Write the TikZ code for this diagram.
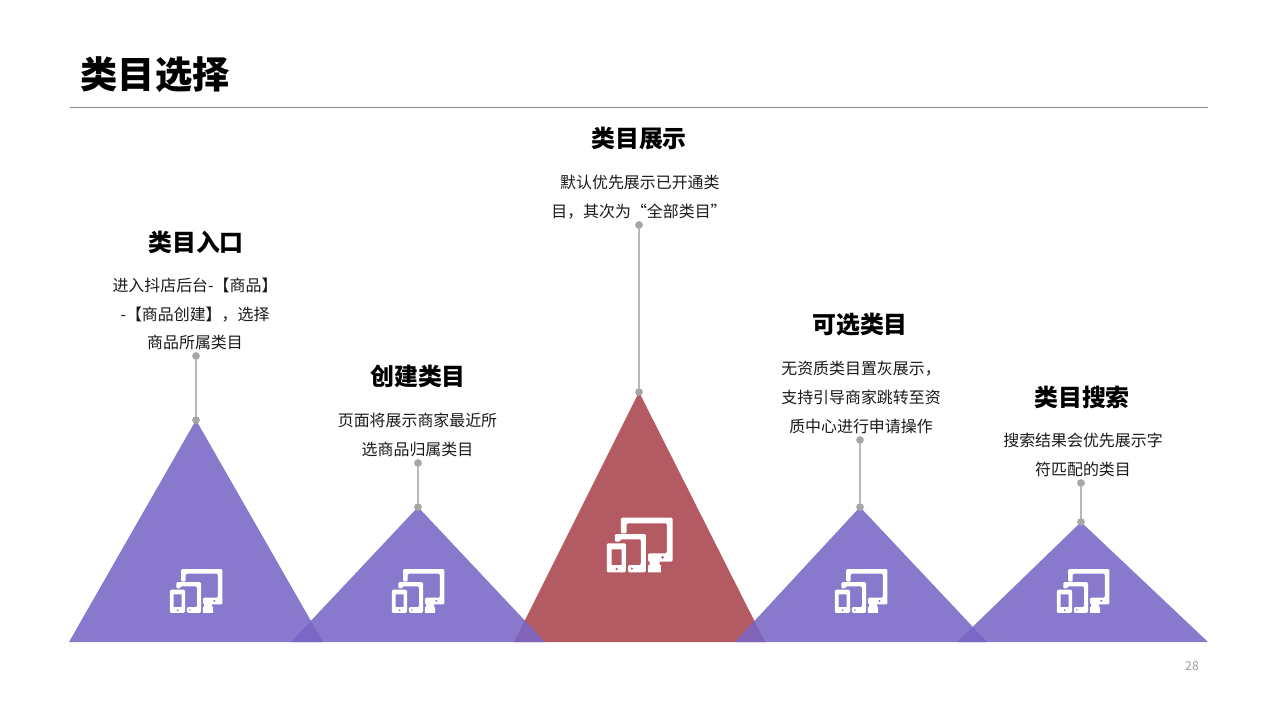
\documentclass[tikz,border=0pt]{standalone}
\usepackage{fontspec}
\setmainfont{Noto Sans CJK SC}
\usetikzlibrary{positioning}
\definecolor{peakpurple}{HTML}{7866C5}
\definecolor{peakred}{HTML}{B45A63}
\definecolor{stemgray}{HTML}{B8B8B8}
\definecolor{pingray}{HTML}{A6A6A6}
\definecolor{rulegray}{HTML}{8C8C8C}
\definecolor{pagegray}{HTML}{A0A0A0}
\tikzset{
    peak/.style={fill=peakpurple, fill opacity=0.88, draw=none},
    redpeak/.style={fill=peakred, draw=none},
    pin/.style={circle, fill=pingray, inner sep=0pt, minimum size=4.4pt},
    stem/.style={draw=stemgray, line width=0.75pt},
    heading/.style={font=\fontsize{13.6}{16}\bfseries\selectfont, text=black, inner sep=0pt},
    blurb/.style={font=\fontsize{9.07}{16.44}\selectfont, text=black!90, align=center, inner sep=0pt},
    devices/.pic={
        \begin{scope}[x=0.00667cm, y=-0.00667cm, shift={(-146,-130)}, fill=white, draw=none]
            \fill[rounded corners=0.7pt, even odd rule]
            (90,95) -- (90,48) -- (245,48) -- (245,180) -- (172,180) -- (172,155) -- (228,155) -- (228,65) -- (107,65) -- (107,95) -- cycle
            (215,167) circle (5);
            \fill (176,178) -- (206,178) -- (206,190) -- (210,190) -- (210,212) -- (172,212) -- (172,190) -- (176,190) -- cycle;
            \fill[rounded corners=0.7pt, even odd rule]
            (72,120) -- (72,97) -- (165,97) -- (165,212) -- (112,212) -- (112,190) -- (150,190) -- (150,113) -- (88,113) -- (88,120) -- cycle
            (123,201) circle (4);
            \fill[even odd rule]
            [rounded corners=0.7pt] (48,125) rectangle (105,212)
            [sharp corners] (62,143) rectangle (92,190)
            (77,202) circle (4.5);
        \end{scope}
    }
}

\begin{document}
\begin{tikzpicture}[x=0.02cm, y=-0.02cm]
    \useasboundingbox (0, 0) rectangle (1280, 720);

    \node[font=\fontsize{21.2}{24}\bfseries\selectfont, inner sep=0pt] (title) at (155, 75) {类目选择};
    \coordinate (ruleL) at (70, 107);
    \coordinate (ruleR) at (1208, 107);
    \draw[rulegray, line width=0.5pt] (ruleL) -- (ruleR);

    % triangles
    \fill[redpeak] (514, 642) -- (639, 392) -- (765, 642) -- cycle;
    \fill[peak] (69, 642) -- (196, 420) -- (323, 642) -- cycle;
    \fill[peak] (291, 642) -- (418, 507) -- (545, 642) -- cycle;
    \fill[peak] (735, 642) -- (860, 507) -- (987, 642) -- cycle;
    \fill[peak] (957, 642) -- (1081, 522) -- (1208, 642) -- cycle;

    \pic[scale=0.8] at (196, 591) {devices};
    \pic[scale=0.8] at (418, 591) {devices};
    \pic at (639.5, 545) {devices};
    \pic[scale=0.8] at (861, 591) {devices};
    \pic[scale=0.8] at (1083, 591) {devices};

    % stems
    \node[pin] (top1) at (196, 356) {};
    \node[pin] (foot1) at (196, 420) {};
    \node[pin] (top2) at (418, 463) {};
    \node[pin] (foot2) at (418, 507) {};
    \node[pin] (top3) at (639, 225) {};
    \node[pin] (foot3) at (639, 392) {};
    \node[pin] (top4) at (860, 440) {};
    \node[pin] (foot4) at (860, 507) {};
    \node[pin] (top5) at (1081, 483) {};
    \node[pin] (foot5) at (1081, 522) {};
    \draw[stem]
    (top1) -- (foot1)
    (top2) -- (foot2)
    (top3) -- (foot3)
    (top4) -- (foot4)
    (top5) -- (foot5);

    % texts
    \node[heading] (head1) at (196, 242) {类目入口};
    \node[blurb] (text1) at (195, 314) {进入抖店后台-【商品】\\-【商品创建】，选择\\商品所属类目};
    \node[heading] (head2) at (418, 376) {创建类目};
    \node[blurb] (text2) at (417.5, 434.5) {页面将展示商家最近所\\选商品归属类目};
    \node[heading] (head3) at (639, 139) {类目展示};
    \node[blurb] (text3) at (639, 197.5) {\hspace*{1pt}默认优先展示已开通类\\目，其次为“全部类目”};
    \node[heading] (head4) at (860, 325) {可选类目};
    \node[blurb] (text4) at (861, 397.5) {无资质类目置灰展示，\\支持引导商家跳转至资\\质中心进行申请操作};
    \node[heading] (head5) at (1082, 397) {类目搜索};
    \node[blurb] (text5) at (1083, 454.5) {搜索结果会优先展示字\\符匹配的类目};

    \node[font=\fontsize{7}{8}\selectfont, text=pagegray, inner sep=0pt] (pagenum) at (1192, 666) {28};
\end{tikzpicture}
\end{document}
